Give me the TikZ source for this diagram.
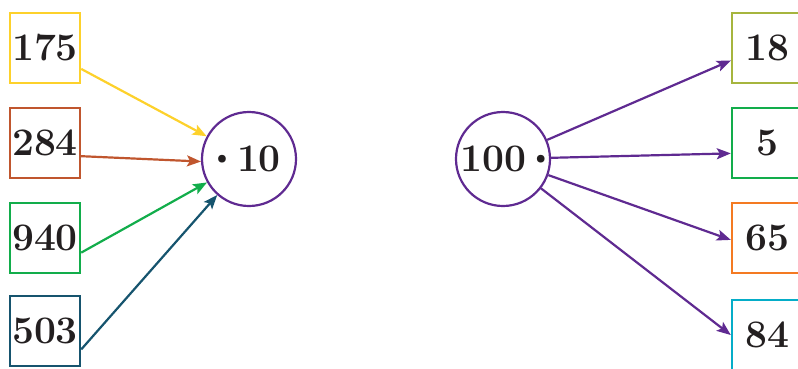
\documentclass[tikz,border=0pt]{standalone}
\usetikzlibrary{arrows.meta}
\definecolor{cyel}{HTML}{FDD12B}
\definecolor{cbrn}{HTML}{C0562E}
\definecolor{cgrn}{HTML}{12AD4B}
\definecolor{cteal}{HTML}{16546E}
\definecolor{cpur}{HTML}{5F2A91}
\definecolor{coli}{HTML}{A6B53E}
\definecolor{cora}{HTML}{F47A22}
\definecolor{ccya}{HTML}{05ADC8}
\definecolor{ctxt}{HTML}{231F20}
\newcommand\mydot{\raisebox{8.2pt}{\fontsize{17}{17}\selectfont$\bullet$}}
\begin{document}
\begin{tikzpicture}[x=1pt,y=-1pt,
  numfont/.style={font=\fontsize{39}{42}\selectfont\bfseries\boldmath,text=ctxt},
  numbox/.style={numfont,draw=#1,line width=2.4pt,minimum size=70pt,inner sep=0pt},
  opcirc/.style={numfont,draw=cpur,line width=2.2pt,circle,minimum size=94pt,inner sep=0pt},
  conn/.style={draw=#1,line width=2.2pt,-{Stealth[length=14pt,width=11pt,inset=3pt]}}]
\useasboundingbox (0,0) rectangle (798,368);
% left boxes
\node[numbox=cyel]  (b175) at (45,48)  {175};
\node[numbox=cbrn]  (b284) at (45,143) {284};
\node[numbox=cgrn]  (b940) at (45,238) {940};
\node[numbox=cteal] (b503) at (45,331) {503};
% circles
\node[opcirc] (c1) at (249,159) {\mydot\hspace{10pt}10};
\node[opcirc] (c2) at (503,159) {100\hspace{10pt}\mydot};
% right boxes
\node[numbox=coli] (b18) at (767,48)  {18};
\node[numbox=cgrn] (b5)  at (767,143) {5};
\node[numbox=cora] (b65) at (767,238) {65};
\node[numbox=ccya] (b84) at (767,335) {84};
% left connectors
\draw[conn=cyel]  (b175.-30) -- (c1);
\draw[conn=cbrn]  (b284.-20) -- (c1.183);
\draw[conn=cgrn]  (b940.-22) -- (c1);
\draw[conn=cteal] (b503.-27) -- (c1);
% right connectors
\draw[conn=cpur] (c2) -- (b18.199);
\draw[conn=cpur] (c2) -- (b5.196);
\draw[conn=cpur] (c2) -- (b65.183);
\draw[conn=cpur] (c2) -- (b84.west);
\end{tikzpicture}
\end{document}
